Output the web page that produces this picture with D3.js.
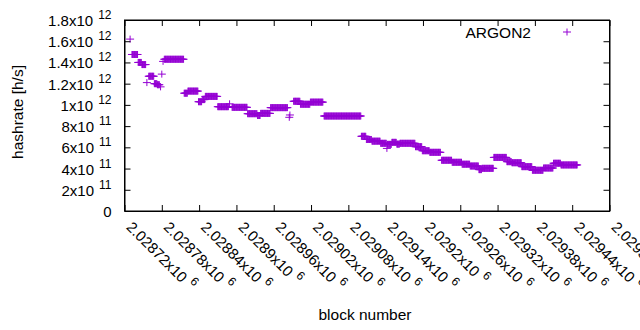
<!DOCTYPE html>
<html>
<head>
<meta charset="utf-8">
<script src="https://cdn.jsdelivr.net/npm/d3@7"></script>
<style>
  body { margin: 0; background: #fff; }
  text { font-family: "Liberation Sans", Arial, sans-serif; fill: #000; }
</style>
</head>
<body>
<script>
// hashrate estimate is constant over runs of blocks
var runStart = [2028729, 2028732, 2028742, 2028748, 2028756, 2028759, 2028768, 2028773, 2028778, 2028780,
                2028782, 2028784, 2028816, 2028822, 2028839, 2028845, 2028850, 2028870, 2028889, 2028893,
                2028918, 2028934, 2028939, 2028955, 2028985, 2028986, 2028992, 2029003, 2029019, 2029041,
                2029101, 2029109, 2029118, 2029132, 2029142, 2029143, 2029150, 2029158, 2029163, 2029188,
                2029199, 2029211, 2029230, 2029247, 2029263, 2029276, 2029290, 2029295, 2029314, 2029335,
                2029343, 2029359, 2029376, 2029394, 2029410, 2029422];
var runEnd   = [2028729, 2028741, 2028747, 2028754, 2028756, 2028767, 2028772, 2028776, 2028778, 2028780,
                2028782, 2028815, 2028821, 2028838, 2028844, 2028849, 2028869, 2028887, 2028889, 2028917,
                2028933, 2028938, 2028954, 2028982, 2028985, 2028986, 2029002, 2029018, 2029039, 2029100,
                2029108, 2029117, 2029131, 2029141, 2029142, 2029149, 2029157, 2029162, 2029187, 2029198,
                2029210, 2029228, 2029246, 2029262, 2029275, 2029289, 2029294, 2029313, 2029334, 2029342,
                2029358, 2029375, 2029393, 2029409, 2029421, 2029448];
var runRate  = [1.62e12, 1.475e12, 1.40e12, 1.38e12, 1.21e12, 1.27e12, 1.20e12, 1.19e12, 1.17e12, 1.29e12,
                1.41e12, 1.43e12, 1.11e12, 1.13e12, 1.03e12, 1.05e12, 1.08e12, 0.983e12, 1.01e12, 0.977e12,
                0.917e12, 0.90e12, 0.92e12, 0.974e12, 0.883e12, 0.905e12, 1.034e12, 1.006e12, 1.026e12, 0.895e12,
                0.704e12, 0.674e12, 0.658e12, 0.638e12, 0.59e12, 0.628e12, 0.647e12, 0.63e12, 0.638e12, 0.606e12,
                0.568e12, 0.553e12, 0.478e12, 0.459e12, 0.441e12, 0.424e12, 0.39e12, 0.402e12, 0.505e12, 0.465e12,
                0.455e12, 0.418e12, 0.384e12, 0.405e12, 0.45e12, 0.434e12];

var xTicks = [2028720, 2028780, 2028840, 2028900, 2028960, 2029020, 2029080,
              2029140, 2029200, 2029260, 2029320, 2029380, 2029440, 2029500];
var xTickText = ["2.02872x10", "2.02878x10", "2.02884x10", "2.0289x10", "2.02896x10", "2.02902x10", "2.02908x10",
                 "2.02914x10", "2.0292x10", "2.02926x10", "2.02932x10", "2.02938x10", "2.02944x10", "2.0295x10"];
var xTickPow = "6";

var yTicks = [0, 2e11, 4e11, 6e11, 8e11, 1e12, 1.2e12, 1.4e12, 1.6e12, 1.8e12];
var yTickText = ["0", "2x10", "4x10", "6x10", "8x10", "1x10", "1.2x10", "1.4x10", "1.6x10", "1.8x10"];
var yTickPow = ["", "11", "11", "11", "11", "12", "12", "12", "12", "12"];

var seriesName = "ARGON2";
var color = "#9400d3";

var width = 640, height = 330;
var plotL = 124.5, plotR = 609.5, plotT = 20, plotB = 211;

var svg = d3.select("body").append("svg")
    .attr("width", width)
    .attr("height", height);

var x = d3.scaleLinear().domain([2028720, 2029500]).range([plotL, plotR]);
var y = d3.scaleLinear().domain([0, 1.8e12]).range([plotB, plotT]);

// expand runs into one point per block
var points = [];
runStart.forEach((s, i) => {
    for (var b = s; b <= runEnd[i]; b++) points.push({ b: b, v: runRate[i] });
});

var cross = "M-4,0h8M0,-3.5v7";

svg.append("g")
    .selectAll("path")
    .data(points)
    .enter()
    .append("path")
    .attr("d", cross)
    .attr("transform", d => `translate(${x(d.b)},${y(d.v)})`)
    .attr("stroke", color)
    .attr("stroke-width", 1)
    .attr("fill", "none");

// axes, ticks pointing inward, mirrored on top/right
var axisL = svg.append("g").attr("transform", `translate(${plotL},0)`)
    .call(d3.axisLeft(y).tickValues(yTicks).tickSizeInner(-6).tickSizeOuter(0));
svg.append("g").attr("transform", `translate(${plotR},0)`)
    .call(d3.axisRight(y).tickValues(yTicks).tickSizeInner(-6).tickSizeOuter(0).tickFormat(""));
var axisB = svg.append("g").attr("transform", `translate(0,${plotB})`)
    .call(d3.axisBottom(x).tickValues(xTicks).tickSizeInner(-6).tickSizeOuter(0));
svg.append("g").attr("transform", `translate(0,${plotT})`)
    .call(d3.axisTop(x).tickValues(xTicks).tickSizeInner(-6).tickSizeOuter(0).tickFormat(""));

svg.selectAll(".domain").attr("stroke", "#000");
svg.selectAll(".tick line").attr("stroke", "#000");

axisL.selectAll(".tick text").each(function (d, i) {
    var t = d3.select(this).text(null)
        .attr("x", -13).attr("dy", null).attr("y", 5.5)
        .attr("font-size", 15).attr("text-anchor", "end");
    t.append("tspan").text(yTickText[i]);
    if (yTickPow[i]) {
        t.append("tspan").attr("dx", 5).attr("dy", -7).attr("font-size", 12).text(yTickPow[i]);
    }
});

axisB.selectAll(".tick text").each(function (d, i) {
    var t = d3.select(this).text(null)
        .attr("x", null).attr("y", null).attr("dy", null)
        .attr("transform", "translate(0.5,17) rotate(45)")
        .attr("font-size", 15).attr("text-anchor", "start");
    t.append("tspan").text(xTickText[i]);
    t.append("tspan").attr("dx", 5).attr("dy", -7).attr("font-size", 12).text(xTickPow);
});

// border
svg.append("rect")
    .attr("x", plotL).attr("y", plotT)
    .attr("width", plotR - plotL).attr("height", plotB - plotT)
    .attr("fill", "none").attr("stroke", "#000");

// legend
svg.append("text")
    .attr("x", 531).attr("y", 37.5)
    .attr("text-anchor", "end")
    .attr("font-size", 15.5)
    .text(seriesName);
svg.append("path")
    .attr("d", cross)
    .attr("transform", "translate(567,32)")
    .attr("stroke", color)
    .attr("fill", "none");

// axis titles
svg.append("text")
    .attr("transform", "translate(23,112) rotate(-90)")
    .attr("text-anchor", "middle")
    .attr("font-size", 15.5)
    .text("hashrate [h/s]");
svg.append("text")
    .attr("x", 365).attr("y", 320)
    .attr("text-anchor", "middle")
    .attr("font-size", 15.5)
    .text("block number");
</script>
</body>
</html>
